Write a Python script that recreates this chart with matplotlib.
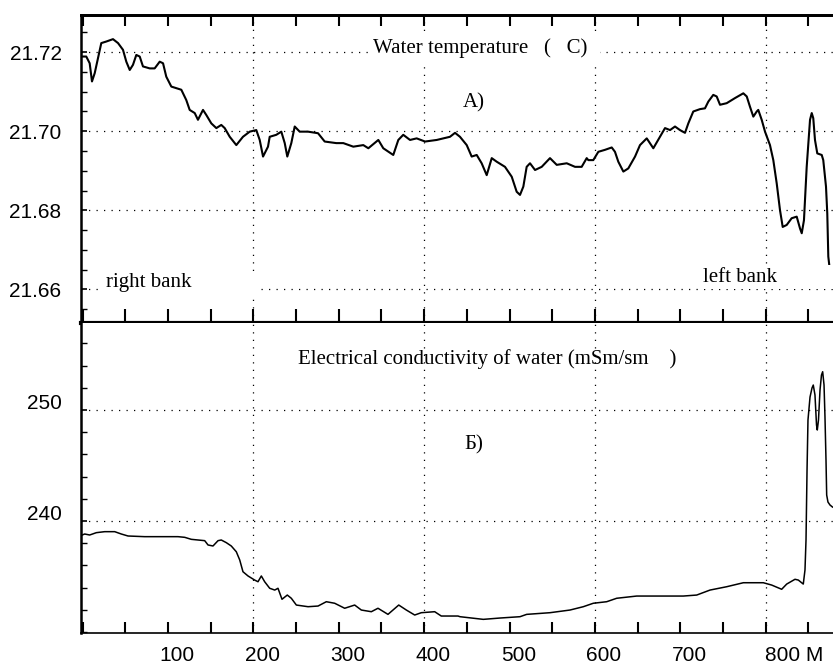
import matplotlib
matplotlib.use("Agg")
import matplotlib.pyplot as plt
import numpy as np
from matplotlib.ticker import MultipleLocator
from matplotlib.transforms import ScaledTranslation

# distance across the river, m  /  water temperature, C
temp_x = [-1.4, 4.4, 8.4, 11.1, 14.3, 18.1, 22.0, 27.9, 35.7, 41.6,
          47.4, 51.3, 55.3, 59.1, 63.0, 67.0, 70.8, 78.7, 84.5, 90.4,
          94.3, 98.1, 104.0, 115.7, 121.5, 125.5, 131.4, 135.2, 141.1, 145.0,
          150.8, 156.7, 162.5, 166.5, 172.4, 180.1, 187.9, 195.8, 203.5, 207.5,
          211.4, 217.2, 219.2, 226.9, 232.8, 236.8, 239.8, 244.5, 248.5, 254.3,
          264.1, 275.8, 283.6, 297.2, 305.4, 317.1, 328.8, 334.7, 346.4, 352.2,
          363.9, 369.8, 375.6, 383.5, 391.3, 401.1, 414.8, 430.3, 436.2, 442.0,
          449.9, 455.7, 461.6, 467.4, 473.3, 479.2, 485.0, 494.7, 502.6, 508.4,
          512.3, 516.2, 520.1, 524.0, 529.9, 537.7, 547.4, 555.3, 567.0, 576.7,
          584.5, 590.4, 592.3, 598.1, 604.0, 611.8, 619.7, 623.5, 627.4, 633.3,
          639.1, 647.0, 652.8, 660.7, 668.4, 676.2, 682.1, 688.0, 693.8, 699.6,
          705.5, 709.4, 715.2, 723.1, 728.9, 732.8, 738.6, 742.6, 746.5, 754.3,
          764.1, 773.8, 777.8, 781.6, 785.5, 789.5, 791.3, 795.3, 799.2, 805.0,
          808.9, 812.9, 816.7, 819.9, 824.6, 830.4, 836.3, 840.2, 842.2, 844.8,
          848.0, 851.9, 853.9, 855.7, 857.7, 860.4, 865.6, 867.4, 870.6, 872.1,
          873.3, 877.3]
temp_v = [21.7189, 21.7189, 21.7172, 21.7126, 21.7147, 21.7185, 21.7223, 21.7227, 21.7233, 21.7223,
          21.7206, 21.7176, 21.7155, 21.7168, 21.7193, 21.7189, 21.7164, 21.7159, 21.7159, 21.7176,
          21.7172, 21.7138, 21.7113, 21.7105, 21.7079, 21.7054, 21.7046, 21.7029, 21.7054, 21.7041,
          21.7020, 21.7008, 21.7016, 21.7008, 21.6986, 21.6965, 21.6986, 21.6999, 21.7003, 21.6978,
          21.6936, 21.6961, 21.6986, 21.6991, 21.6999, 21.6970, 21.6936, 21.6970, 21.7012, 21.6999,
          21.6999, 21.6995, 21.6974, 21.6970, 21.6970, 21.6961, 21.6965, 21.6957, 21.6978, 21.6957,
          21.6940, 21.6978, 21.6991, 21.6978, 21.6982, 21.6974, 21.6978, 21.6986, 21.6996, 21.6986,
          21.6965, 21.6936, 21.6940, 21.6919, 21.6889, 21.6932, 21.6923, 21.6910, 21.6885, 21.6847,
          21.6839, 21.6860, 21.6910, 21.6919, 21.6902, 21.6910, 21.6932, 21.6915, 21.6919, 21.6910,
          21.6910, 21.6932, 21.6927, 21.6927, 21.6948, 21.6953, 21.6959, 21.6948, 21.6923, 21.6898,
          21.6906, 21.6936, 21.6965, 21.6982, 21.6957, 21.6986, 21.7008, 21.7003, 21.7012, 21.7003,
          21.6996, 21.7020, 21.7050, 21.7056, 21.7058, 21.7075, 21.7092, 21.7088, 21.7067, 21.7071,
          21.7084, 21.7096, 21.7088, 21.7062, 21.7037, 21.7050, 21.7054, 21.7029, 21.6999, 21.6965,
          21.6927, 21.6868, 21.6801, 21.6758, 21.6763, 21.6780, 21.6784, 21.6754, 21.6742, 21.6775,
          21.6910, 21.7029, 21.7046, 21.7033, 21.6978, 21.6944, 21.6940, 21.6927, 21.6860, 21.6792,
          21.6683, 21.6607]

# distance, m  /  electrical conductivity
cond_x = [-3.3, 2.6, 8.4, 16.2, 26.0, 37.7, 45.4, 53.3, 72.8, 92.3,
          111.8, 119.7, 127.4, 143.1, 147.0, 152.8, 158.7, 162.5, 168.4, 174.2,
          180.1, 184.1, 187.9, 193.8, 201.6, 205.5, 209.4, 213.3, 219.2, 225.1,
          228.9, 233.6, 239.8, 244.5, 250.4, 264.1, 275.8, 285.5, 295.3, 307.0,
          318.7, 326.5, 338.2, 346.0, 357.7, 370.3, 379.2, 389.0, 396.7, 412.4,
          420.1, 439.7, 442.0, 469.3, 488.9, 512.3, 520.1, 547.4, 570.8, 586.4,
          598.1, 613.8, 625.5, 648.9, 672.4, 703.5, 719.2, 734.8, 754.3, 773.8,
          797.2, 807.0, 818.7, 824.6, 834.3, 838.2, 844.0, 846.0, 847.2, 848.4,
          849.5, 851.9, 854.2, 855.7, 857.7, 859.5, 860.4, 861.8, 863.6, 865.3,
          866.7, 868.3, 869.4, 870.6, 871.4, 872.9, 875.3, 878.2]
cond_v = [238.65, 238.83, 238.74, 238.95, 239.04, 239.04, 238.83, 238.65, 238.59, 238.59,
          238.59, 238.53, 238.35, 238.23, 237.84, 237.75, 238.23, 238.29, 238.05, 237.75,
          237.23, 236.49, 235.43, 235.05, 234.68, 234.53, 235.05, 234.53, 233.94, 233.78,
          233.94, 232.95, 233.33, 233.04, 232.43, 232.28, 232.34, 232.73, 232.59, 232.14,
          232.43, 231.98, 231.83, 232.14, 231.59, 232.43, 231.98, 231.53, 231.74, 231.83,
          231.44, 231.44, 231.38, 231.14, 231.26, 231.38, 231.59, 231.74, 231.98, 232.28,
          232.59, 232.73, 233.04, 233.24, 233.24, 233.24, 233.33, 233.78, 234.08, 234.44,
          234.44, 234.23, 233.85, 234.32, 234.75, 234.68, 234.32, 235.59, 238.29, 244.59,
          249.10, 251.17, 251.98, 252.25, 251.35, 248.65, 248.20, 249.10, 251.80, 253.15,
          253.45, 252.25, 249.40, 245.50, 242.34, 241.71, 241.44, 241.26]

temp_ticks = [21.66, 21.68, 21.70, 21.72]
cond_ticks = [240, 250]
x_grid = [200, 400, 600, 800]
x_ticks = np.arange(0, 851, 50)
x_labels = ["" if (v % 100 or v == 0) else str(v) for v in x_ticks]
x_labels[16] = "800 M"

serif = "Liberation Serif"
sans = "Liberation Sans"
grid_style = dict(color="black", lw=0.9, ls=(0, (1, 5)))

fig = plt.figure(figsize=(8.33, 6.65), dpi=100)
ax1 = fig.add_axes([0.0972, 0.5143, 0.9028, 0.4631])
ax2 = fig.add_axes([0.0972, 0.0481, 0.9028, 0.4662], sharex=ax1)

# --- A) water temperature
ax1.plot(temp_x, temp_v, color="black", lw=1.5)
ax1.set_xlim(-1.8, 878.8)
ax1.set_ylim(21.6515, 21.7294)
ax1.set_yticks(temp_ticks)
ax1.set_yticklabels(["%.2f" % t for t in temp_ticks], fontfamily=sans, fontsize=15)
ax1.yaxis.set_minor_locator(MultipleLocator(0.005))
ax1.yaxis.grid(True, **grid_style)
for g in x_grid:
    ax1.axvline(g, **grid_style)

ax1.set_xticks(x_ticks)
ax1.tick_params(axis="x", direction="inout", length=20, width=1.5, labelbottom=False)
top = ax1.secondary_xaxis("top")
top.set_xticks(x_ticks)
top.tick_params(direction="in", length=8, width=1.5, labeltop=False)
top.spines["top"].set_linewidth(2)

ax1.spines["right"].set_visible(False)
ax1.spines["top"].set_linewidth(2)
ax1.spines["left"].set_linewidth(1.8)
ax1.spines["bottom"].set_linewidth(3)
ax1.spines["bottom"].set_zorder(5)

box = dict(facecolor="white", edgecolor="none", pad=2)
ax1.text(0.388, 0.893, "Water temperature   (   C)  ", transform=ax1.transAxes,
         fontfamily=serif, fontsize=15, ha="left", va="center", bbox=box)
ax1.text(0.523, 0.714, "А)", transform=ax1.transAxes,
         fontfamily=serif, fontsize=15, ha="center", va="center")
ax1.text(0.033, 0.130, "right bank            ", transform=ax1.transAxes,
         fontfamily=serif, fontsize=15, ha="left", va="center", bbox=box)
ax1.text(0.827, 0.149, "left bank           ", transform=ax1.transAxes,
         fontfamily=serif, fontsize=15, ha="left", va="center", bbox=box)

# --- Б) electrical conductivity
ax2.plot(cond_x, cond_v, color="black", lw=1.1)
ax2.set_ylim(229.91, 257.84)
ax2.set_yticks(cond_ticks)
ax2.set_yticklabels([str(t) for t in cond_ticks], fontfamily=sans, fontsize=15)
ax2.yaxis.set_minor_locator(MultipleLocator(2))
ax2.yaxis.grid(True, **grid_style)
for g in x_grid:
    ax2.axvline(g, **grid_style)

ax2.set_xticks(x_ticks)
ax2.set_xticklabels(x_labels, fontfamily=sans, fontsize=15)
ax2.tick_params(axis="x", direction="in", length=8, width=1.5, pad=9)

ax2.spines["right"].set_visible(False)
ax2.spines["top"].set_visible(False)
ax2.spines["left"].set_linewidth(1.8)
ax2.spines["bottom"].set_linewidth(1.2)

ax2.text(0.289, 0.884, "Electrical conductivity of water (mSm/sm    )", transform=ax2.transAxes,
         fontfamily=serif, fontsize=15, ha="left", va="center")
ax2.text(0.523, 0.606, "Б)", transform=ax2.transAxes,
         fontfamily=serif, fontsize=15, ha="center", va="center")

for ax in (ax1, ax2):
    ax.tick_params(axis="y", which="major", direction="in", length=4, width=1.2, pad=14)
    ax.tick_params(axis="y", which="minor", direction="in", length=4, width=1.0)

# tick labels sit a little right of their ticks, and y labels a little high on Б)
for lab in ax2.get_xticklabels():
    dx = 0.28 if lab.get_text().endswith("M") else 0.09
    lab.set_transform(lab.get_transform() + ScaledTranslation(dx, 0, fig.dpi_scale_trans))
for lab in ax2.get_yticklabels():
    lab.set_transform(lab.get_transform() + ScaledTranslation(0, 0.09, fig.dpi_scale_trans))

fig.savefig("out.png", dpi=100)
